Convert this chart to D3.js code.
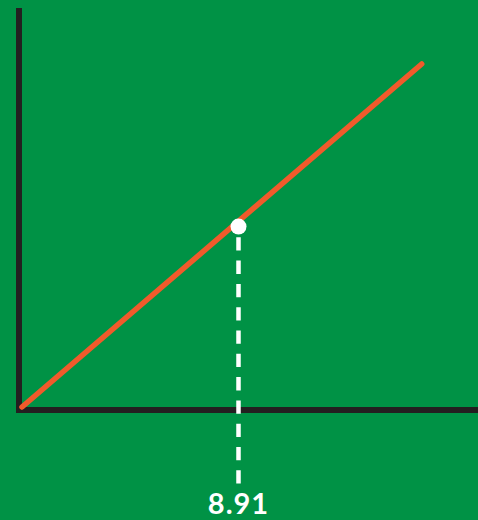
<!doctype html>
<html>
<head>
    <script src="https://d3js.org/d3.v7.min.js"></script>
    <style>
        body { margin: 0; background: #009245; }
    </style>
</head>
<body>
    <script>
        var width = 478;
        var height = 520;

        // data
        var lineX = [0, 16.45];
        var lineY = [0, 16.45];
        var markX = 8.91;
        var markY = 8.65;
        var markLabel = "8.91";

        var xScale = d3.scaleLinear()
                        .domain([0, markX])
                        .range([22, 238.5]);
        var yScale = d3.scaleLinear()
                        .domain([0, markX])
                        .range([407, 221.2]);

        // create svg
        var svg = d3.select("body")
                    .append("svg")
                    .attr("width", width)
                    .attr("height", height)
                    .style("display", "block")
                    .style("background", "#009245");

        // axes
        svg.append("line")
           .attr("x1", 19).attr("y1", 8)
           .attr("x2", 19).attr("y2", 413)
           .style("stroke", "#231f20")
           .style("stroke-width", 6);
        svg.append("line")
           .attr("x1", 16).attr("y1", 410)
           .attr("x2", width).attr("y2", 410)
           .style("stroke", "#231f20")
           .style("stroke-width", 6);

        // the line
        var points = lineX.map(function(x, i){ return [x, lineY[i]]; });
        svg.append("path")
           .attr("d", d3.line()
                        .x(function(d){ return xScale(d[0]); })
                        .y(function(d){ return yScale(d[1]); })(points))
           .style("fill", "none")
           .style("stroke", "#f15a2b")
           .style("stroke-width", 5.5)
           .style("stroke-linecap", "round");

        // dashed drop line
        svg.append("line")
           .attr("x1", xScale(markX)).attr("y1", 237.3)
           .attr("x2", xScale(markX)).attr("y2", 484)
           .style("stroke", "#fff")
           .style("stroke-width", 4.5)
           .style("stroke-dasharray", "13.3,10");

        svg.append("circle")
           .attr("cx", xScale(markX))
           .attr("cy", yScale(markY))
           .attr("r", 8)
           .style("fill", "#fff");

        svg.append("text")
           .attr("x", xScale(markX))
           .attr("y", 514)
           .attr("text-anchor", "middle")
           .style("font-family", "Lato, sans-serif")
           .style("font-weight", "bold")
           .style("font-size", "29px")
           .style("letter-spacing", "1px")
           .style("fill", "#fff")
           .text(markLabel);
    </script>
</body>
</html>
